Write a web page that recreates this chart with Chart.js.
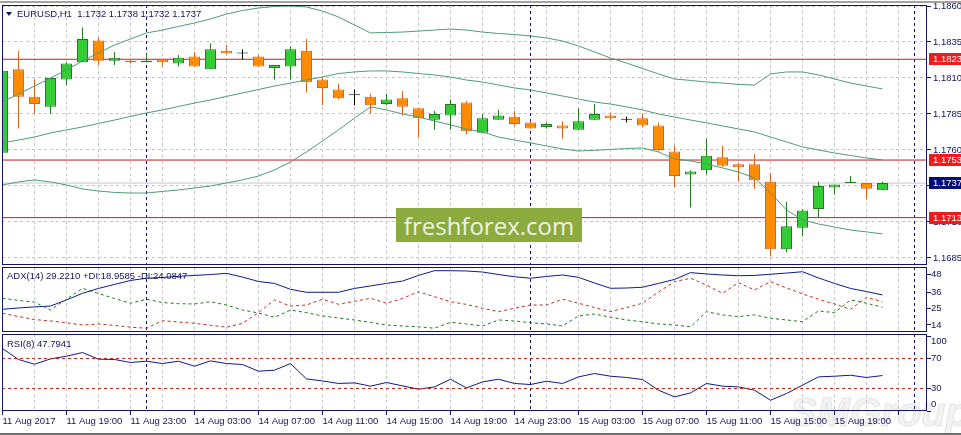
<!DOCTYPE html>
<html>
<head>
<meta charset="utf-8">
<script src="https://cdn.jsdelivr.net/npm/chart.js@4.4.1/dist/chart.umd.min.js"></script>
<style>
  html, body { margin: 0; padding: 0; background: #fff; }
  body { width: 961px; height: 435px; position: relative; overflow: hidden; font-family: "Liberation Sans", Arial, sans-serif; }
  canvas { position: absolute; left: 0; }
  .lbl { position: absolute; font-size: 9.5px; line-height: 1; color: #14145a; white-space: pre; z-index: 5; }
  #tri { position: absolute; left: 6px; top: 12px; width: 0; height: 0; border-left: 3px solid transparent; border-right: 3px solid transparent; border-top: 4px solid #14145a; z-index: 5; }
  #brand { position: absolute; left: 396px; top: 208px; width: 186px; height: 34px; background: #8cab3f; color: #eef2e2;
           font-family: "Open Sans", sans-serif; font-size: 24px; display: flex; align-items: center; justify-content: center; z-index: 6; }
  #smg { position: absolute; left: 790px; top: 390px; font: italic bold 40px "Liberation Sans", Arial, sans-serif; color: #f3f3f3;
         -webkit-text-stroke: 1px #e6e6e6; z-index: 0; }
  #topbar { position: absolute; left: 0; top: 1px; width: 961px; height: 2px; background: #a3a3a3; }
  #botbar { position: absolute; left: 0; top: 433px; width: 961px; height: 2px; background: #6e6e6e; }
</style>
</head>
<body>
<div id="topbar"></div>
<div id="smg">SMGroup</div>
<canvas id="main" width="961" height="266" style="top:0"></canvas>
<canvas id="adx" width="961" height="67" style="top:266px"></canvas>
<canvas id="rsi" width="961" height="102" style="top:333px"></canvas>
<div id="tri"></div>
<div class="lbl" style="left:17px;top:9px">EURUSD,H1  1.1732 1.1738 1.1732 1.1737</div>
<div class="lbl" style="left:7px;top:271px">ADX(14) 29.2210 +DI:18.9585 -DI:24.0847</div>
<div class="lbl" style="left:7px;top:339px">RSI(8) 47.7941</div>
<div id="brand">freshforex.com</div>
<div id="botbar"></div>

<script>
// EURUSD H1, 11 Aug 15:00 .. 15 Aug 20:00, one entry per hourly bar
const open  = [1.1758,1.1816,1.1797,1.1790,1.1809,1.1821,1.1836,1.1822,1.1822,1.1821,1.1823,1.1820,1.1825,1.1816,1.1829,1.1827,1.1825,1.1817,1.1818,1.1829,1.1809,1.1802,1.1798,1.1797,1.1792,1.1796,1.1789,1.1781,1.1784,1.1793,1.1772,1.1781,1.1783,1.1779,1.1776,1.1777,1.1774,1.1781,1.1784,1.1781,1.1782,1.1777,1.1759,1.1743,1.1746,1.1755,1.1750,1.1750,1.1738,1.1691,1.1706,1.1719,1.1734,1.1737,1.1737,1.1732];
const high  = [1.1834,1.1829,1.1809,1.1810,1.1821,1.1845,1.1838,1.1828,1.1823,1.1827,1.1823,1.1826,1.1828,1.1834,1.1833,1.1830,1.1826,1.1819,1.1832,1.1837,1.1811,1.1806,1.1802,1.1799,1.1799,1.1801,1.1789,1.1787,1.1795,1.1794,1.1785,1.1788,1.1787,1.1780,1.1779,1.1780,1.1789,1.1792,1.1786,1.1783,1.1785,1.1779,1.1763,1.1746,1.1768,1.1763,1.1751,1.1757,1.1744,1.1724,1.1719,1.1738,1.1736,1.1742,1.1737,1.1738];
const low   = [1.1754,1.1775,1.1785,1.1785,1.1805,1.1821,1.1819,1.1819,1.1820,1.1821,1.1818,1.1818,1.1818,1.1816,1.1827,1.1823,1.1818,1.1809,1.1809,1.1800,1.1791,1.1795,1.1791,1.1785,1.1791,1.1784,1.1769,1.1774,1.1774,1.1771,1.1772,1.1781,1.1777,1.1775,1.1775,1.1768,1.1774,1.1781,1.1781,1.1779,1.1776,1.1759,1.1734,1.1720,1.1743,1.1748,1.1738,1.1733,1.1686,1.1689,1.1700,1.1713,1.1729,1.1737,1.1726,1.1732];
const close = [1.1815,1.1797,1.1792,1.1810,1.1820,1.1837,1.1822,1.1824,1.1821,1.1822,1.1821,1.1824,1.1818,1.1830,1.1827,1.1827,1.1818,1.1819,1.1830,1.1807,1.1803,1.1796,1.1798,1.1791,1.1795,1.1790,1.1782,1.1785,1.1792,1.1773,1.1782,1.1784,1.1778,1.1775,1.1778,1.1775,1.1780,1.1785,1.1782,1.1781,1.1777,1.1760,1.1742,1.1745,1.1756,1.1749,1.1748,1.1739,1.1691,1.1707,1.1718,1.1735,1.1736,1.1738,1.1733,1.1737];

// bollinger bands
const bbUpper  = [1.17933,1.17989,1.18044,1.18100,1.18156,1.18218,1.18274,1.18329,1.18371,1.18413,1.18433,1.18458,1.18482,1.18510,1.18544,1.18569,1.18586,1.18597,1.18600,1.18593,1.18565,1.18524,1.18468,1.18413,1.18416,1.18419,1.18426,1.18433,1.18440,1.18433,1.18419,1.18409,1.18402,1.18392,1.18378,1.18357,1.18322,1.18281,1.18239,1.18204,1.18166,1.18128,1.18093,1.18083,1.18072,1.18065,1.18055,1.18051,1.18128,1.18142,1.18142,1.18121,1.18093,1.18065,1.18044,1.18024];
const bbMiddle = [1.17649,1.17669,1.17690,1.17718,1.17739,1.17760,1.17784,1.17808,1.17833,1.17857,1.17878,1.17902,1.17926,1.17947,1.17972,1.17996,1.18020,1.18044,1.18065,1.18086,1.18107,1.18131,1.18142,1.18149,1.18149,1.18142,1.18131,1.18121,1.18107,1.18086,1.18072,1.18051,1.18031,1.18017,1.17996,1.17975,1.17954,1.17933,1.17919,1.17899,1.17878,1.17850,1.17829,1.17808,1.17788,1.17767,1.17746,1.17725,1.17690,1.17656,1.17621,1.17600,1.17579,1.17562,1.17544,1.17531];
const bbLower  = [1.17357,1.17378,1.17392,1.17378,1.17357,1.17329,1.17315,1.17305,1.17301,1.17301,1.17312,1.17322,1.17336,1.17350,1.17371,1.17392,1.17419,1.17461,1.17517,1.17586,1.17663,1.17739,1.17822,1.17899,1.17878,1.17850,1.17829,1.17801,1.17774,1.17746,1.17725,1.17690,1.17669,1.17649,1.17628,1.17607,1.17593,1.17597,1.17604,1.17610,1.17614,1.17586,1.17538,1.17524,1.17503,1.17475,1.17447,1.17406,1.17301,1.17183,1.17114,1.17086,1.17065,1.17044,1.17031,1.17017];

// ADX(14) panel
const adx     = [24.6,25.5,26.2,26.8,30.9,35.4,38.7,41.4,44.1,45.6,46.1,46.9,47.5,48.1,48.9,46.4,43.4,42.1,38.1,36.1,36.1,36.1,38.7,40.4,42.1,43.7,47.5,50.7,50.7,50.5,49.8,48.1,46.6,45.6,46.8,47.8,46.2,42.4,38.8,39.0,39.5,42.1,44.8,49.4,48.5,47.8,47.3,47.5,48.3,49.1,50.0,45.8,42.1,38.7,36.6,34.3];
const plusDI  = [32.0,30.6,29.5,24.1,31.4,38.8,35.3,31.9,28.7,31.4,29.2,28.4,28.2,29.7,27.5,24.1,22.1,19.2,24.1,22.3,20.1,18.7,17.4,15.7,14.0,13.3,12.8,11.8,15.8,14.7,13.3,17.4,16.7,15.5,14.7,13.3,20.1,21.4,19.2,17.4,16.2,14.7,14.0,12.8,23.0,20.8,19.6,20.8,18.5,17.4,16.2,23.5,22.3,30.9,28.7,26.0];
const minusDI = [21.9,19.7,17.7,16.7,15.5,14.0,14.7,13.7,12.5,11.8,16.9,16.0,15.1,13.8,12.5,15.1,22.4,30.9,26.8,27.5,31.4,28.0,30.0,32.0,28.7,32.0,36.5,33.1,29.7,27.9,25.3,23.0,25.3,27.5,27.5,31.4,28.7,25.8,23.0,25.8,28.7,36.3,43.3,45.6,41.0,35.4,42.6,37.7,43.3,39.0,35.0,31.4,28.2,24.6,32.7,29.7];

// RSI(8) panel
const rsi = [83.3,68.7,62.4,69.5,73.1,78.0,69.1,68.7,64.7,66.4,63.3,66.4,59.7,66.8,63.3,62.0,53.1,54.4,63.3,42.8,40.1,36.7,37.5,33.1,38.0,33.5,29.1,32.1,42.4,30.8,38.8,42.4,36.7,35.3,39.7,36.7,45.5,50.0,46.4,44.7,42.0,27.7,18.8,24.1,36.7,33.1,32.1,27.7,14.4,23.3,34.4,45.5,46.4,47.7,44.7,47.3];

// axes
const timeLabels = ['11 Aug 2017','11 Aug 19:00','11 Aug 23:00','14 Aug 03:00','14 Aug 07:00','14 Aug 11:00','14 Aug 15:00','14 Aug 19:00','14 Aug 23:00','15 Aug 03:00','15 Aug 07:00','15 Aug 11:00','15 Aug 15:00','15 Aug 19:00'];
const priceTicks = [1.1685,1.1710,1.1735,1.1760,1.1785,1.1810,1.1835,1.1860];
const adxTicks = [48,36,25,14];
const rsiTicks = [100,70,30,0];
const rsiLevels = [70,30];
const levels = [1.1823,1.1753,1.1713];
const lastPrice = 1.1737;
const separators = [9,33,57];   // day breaks

const X_MIN = -0.03, X_MAX = 57.78;
const LABEL_EVERY = 4, GRID_EVERY = 2;

const FRAME = '#14146e';
const TXT = '#14145a';
const GRID = '#c6c6c6';
const FONT = { family: 'Liberation Sans', size: 9.5 };
const FONT_CSS = '9.5px "Liberation Sans"';
const COL = {
  up:   { fill: '#32cd32', edge: '#1f7a1f' },
  down: { fill: '#ff8c00', edge: '#e0601a' },
  flat: { fill: '#000000', edge: '#000000' }
};

const idx = open.map((_, i) => i);
const kind = i => close[i] > open[i] ? 'up' : (close[i] < open[i] ? 'down' : 'flat');
const gridIdx = [];
for (let v = 0; v <= X_MAX; v += GRID_EVERY) gridIdx.push(v);
const series = arr => arr.map((v, i) => ({ x: i, y: v }));
const hline = v => [{ x: X_MIN, y: v }, { x: X_MAX, y: v }];

Chart.defaults.font.family = FONT.family;
Chart.defaults.font.size = FONT.size;

function xScale(withLabels) {
  return {
    type: 'linear', min: X_MIN, max: X_MAX, offset: false,
    afterBuildTicks: s => { s.ticks = gridIdx.map(v => ({ value: v })); },
    afterFit: s => { s.height = withLabels ? 24 : 0; },
    grid: {
      offset: false, color: GRID, drawTicks: withLabels, tickLength: 4,
      tickColor: c => (c.tick && c.tick.value % LABEL_EVERY === 0) ? FRAME : 'rgba(0,0,0,0)'
    },
    border: { display: false, dash: [3, 3] },
    ticks: {
      display: withLabels, autoSkip: false, maxRotation: 0, minRotation: 0, align: 'start',
      padding: 1, color: TXT, font: FONT,
      callback: v => v % LABEL_EVERY === 0 ? (timeLabels[v / LABEL_EVERY] || '') : ''
    }
  };
}

// right-hand value scale: tick marks from chart.js, text drawn here so that
// the panels keep their exact height
function yScale(min, max, ticks, gridColor, dash) {
  return {
    position: 'right', min, max,
    afterBuildTicks: s => { s.ticks = ticks.map(v => ({ value: v })); },
    afterFit: s => { s.width = 34; },
    grid: { color: gridColor, tickLength: 4, tickColor: FRAME },
    border: { display: false, dash: dash || [] },
    ticks: { display: false }
  };
}

function scaleText(values, fmt, dx, clampIt) {
  return {
    id: 'scaleText',
    afterDraw(chart) {
      const { ctx, chartArea: a, scales: { y } } = chart;
      ctx.save();
      ctx.font = FONT_CSS; ctx.fillStyle = TXT; ctx.textBaseline = 'middle'; ctx.textAlign = 'left';
      values.forEach(v => {
        let py = y.getPixelForValue(v);
        if (clampIt) py = Math.min(Math.max(py, a.top + 7), a.bottom - 7);
        ctx.fillText(fmt(v), a.right + dx, py);
      });
      ctx.restore();
    }
  };
}

// panel frame + day separators
const panelFrame = {
  id: 'panelFrame',
  beforeDatasetsDraw(chart) {
    const { ctx, chartArea: a, scales } = chart;
    ctx.save();
    ctx.strokeStyle = FRAME; ctx.lineWidth = 1; ctx.setLineDash([3, 3]);
    separators.forEach(v => {
      const x = Math.floor(scales.x.getPixelForValue(v)) + 0.5;
      ctx.beginPath(); ctx.moveTo(x, a.top); ctx.lineTo(x, a.bottom); ctx.stroke();
    });
    ctx.restore();
  },
  afterDraw(chart) {
    const { ctx, chartArea: a } = chart;
    ctx.save();
    ctx.strokeStyle = FRAME; ctx.lineWidth = 1;
    ctx.strokeRect(a.left + 0.5, a.top + 0.5, a.width - 1, a.height - 1);
    ctx.restore();
  }
};

// coloured price boxes on the right scale
const priceBoxes = {
  id: 'priceBoxes',
  afterDraw(chart) {
    const { ctx, chartArea: a, scales: { y } } = chart;
    ctx.save();
    ctx.font = FONT_CSS; ctx.textBaseline = 'middle'; ctx.textAlign = 'left';
    const boxes = levels.map(v => [v, '#f01c1c']).concat([[lastPrice, '#000c7a']]);
    boxes.forEach(([v, col]) => {
      const py = Math.round(y.getPixelForValue(v));
      ctx.fillStyle = col;
      ctx.fillRect(a.right + 2, py - 6, 40, 12);
      ctx.fillStyle = '#ffffff';
      ctx.fillText(v.toFixed(4), a.right + 6, py);
    });
    ctx.restore();
  }
};

const common = {
  responsive: false,
  animation: false,
  events: [],
  plugins: { legend: { display: false }, tooltip: { enabled: false } }
};

const bandLine = (arr) => ({
  type: 'line', data: series(arr), borderColor: '#4d9c76', borderWidth: 1,
  pointRadius: 0, tension: 0, order: 1
});
const levelLine = (v, col) => ({
  type: 'line', data: hline(v), borderColor: col, borderWidth: 1, pointRadius: 0, order: 9
});

// main price panel
new Chart(document.getElementById('main'), {
  type: 'bar',
  data: {
    datasets: [
      levelLine(lastPrice, '#c8c8c8'),
      ...levels.map(v => levelLine(v, '#c41e1e')),
      {
        data: idx.map(i => ({ x: i, y: [low[i], high[i]] })),
        backgroundColor: idx.map(i => COL[kind(i)].edge),
        borderWidth: 0, barThickness: 1, grouped: false, inflateAmount: 0, order: 5
      },
      {
        data: idx.map(i => ({ x: i, y: [open[i], close[i]] })),
        backgroundColor: idx.map(i => COL[kind(i)].fill),
        borderColor: idx.map(i => COL[kind(i)].edge),
        borderWidth: 1, borderSkipped: false, barThickness: 11, minBarLength: 1,
        grouped: false, inflateAmount: 0, order: 4
      },
      bandLine(bbUpper),
      bandLine(bbMiddle),
      bandLine(bbLower)
    ]
  },
  options: {
    ...common,
    layout: { padding: { top: 5, bottom: 1, left: 2, right: 0 } },
    scales: {
      x: xScale(false),
      y: yScale(1.16801, 1.18607, priceTicks, GRID, [3, 3])
    }
  },
  plugins: [panelFrame, scaleText(priceTicks, v => v.toFixed(4), 6, false), priceBoxes]
});

// ADX panel
new Chart(document.getElementById('adx'), {
  type: 'line',
  data: {
    datasets: [
      { data: series(minusDI), borderColor: '#c8281e', borderWidth: 1, borderDash: [3, 3], pointRadius: 0, tension: 0 },
      { data: series(plusDI), borderColor: '#1a7a1a', borderWidth: 1, borderDash: [3, 3], pointRadius: 0, tension: 0 },
      { data: series(adx), borderColor: '#0c1a8c', borderWidth: 1, pointRadius: 0, tension: 0 }
    ]
  },
  options: {
    ...common,
    layout: { padding: { top: 1, bottom: 1, left: 2, right: 0 } },
    scales: {
      x: xScale(false),
      y: yScale(9.25, 53.2, adxTicks, 'rgba(0,0,0,0)')
    }
  },
  plugins: [panelFrame, scaleText(adxTicks, v => String(v), 4, true)]
});

// RSI panel, carries the time axis
new Chart(document.getElementById('rsi'), {
  type: 'line',
  data: {
    datasets: [
      ...rsiLevels.map(v => ({ data: hline(v), borderColor: '#c8281e', borderWidth: 1, borderDash: [3, 3], pointRadius: 0 })),
      { data: series(rsi), borderColor: '#0c1a8c', borderWidth: 1, pointRadius: 0, tension: 0 }
    ]
  },
  options: {
    ...common,
    layout: { padding: { top: 1, bottom: 0, left: 2, right: 0 } },
    scales: {
      x: xScale(true),
      y: yScale(0, 102.7, rsiTicks, 'rgba(0,0,0,0)')
    }
  },
  plugins: [panelFrame, scaleText(rsiTicks, v => String(v), 4, true)]
});
</script>
</body>
</html>
